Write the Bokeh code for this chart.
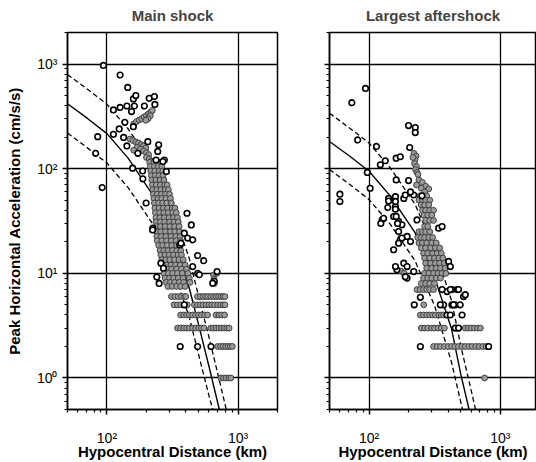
from bokeh.plotting import figure
from bokeh.layouts import row
from bokeh.models import FixedTicker, CustomJSTickFormatter, Range1d
from bokeh.embed import file_html
from bokeh.resources import INLINE

FONT = "Liberation Sans"

# ---------------- data ----------------
x_major = [100, 1000]
x_minor = [50, 60, 70, 80, 90, 200, 300, 400, 500, 600, 700, 800, 900, 2000]
y_major = [1, 10, 100, 1000]
y_minor = [0.5, 0.6, 0.7, 0.8, 0.9, 2, 3, 4, 5, 6, 7, 8, 9, 20, 30, 40, 50, 60, 70, 80, 90,
           200, 300, 400, 500, 600, 700, 800, 900, 2000]

# attenuation curves (distance km, acceleration cm/s/s)
main_curve_d = [50, 71, 100, 145, 224, 316, 425, 501, 603, 720]
main_solid_a = [417, 302, 216, 126, 56, 21.4, 7.2, 3.2, 1.26, 0.50]
main_upper_d = [50, 71, 100, 145, 224, 316, 425, 501, 603, 720, 820]
main_upper_a = [794, 575, 412, 240, 107, 40.7, 13.8, 6.0, 2.4, 0.95, 0.48]
main_lower_d = [50, 71, 100, 145, 224, 316, 425, 501, 603, 645]
main_lower_a = [219, 158, 113, 66, 29.5, 11.2, 3.8, 1.66, 0.66, 0.49]

after_solid_d = [50, 71, 100, 145, 224, 316, 425, 501, 603]
after_solid_a = [182, 132, 94.4, 55, 24.5, 9.1, 2.95, 1.07, 0.40]
after_upper_d = [50, 71, 100, 145, 224, 316, 425, 501, 603, 720]
after_upper_a = [339, 245, 176, 102, 45.7, 17.0, 5.5, 2.0, 0.74, 0.28]
after_lower_d = [50, 71, 100, 145, 224, 316, 425, 501, 603]
after_lower_a = [98, 71, 50.7, 29.5, 13.2, 4.9, 1.41, 0.58, 0.22]

# main shock: open circles (d, a)
main_open = [(94, 970), (126, 785), (144, 598), (159, 464), (166, 499), (210, 470), (230, 488),
             (232, 411), (112, 364), (126, 385), (142, 397), (162, 397), (154, 351), (193, 397),
             (137, 277), (124, 240), (112, 213), (159, 252), (85, 202), (134, 199), (142, 165),
             (82, 140), (157, 101), (187, 95), (172, 140), (205, 181), (244, 146), (248, 169),
             (237, 121), (274, 121), (92, 66), (188, 80), (199, 47), (224, 27), (267, 117),
             (284, 94), (408, 37.5), (440, 29), (359, 18.7), (389, 24.2), (413, 21.7),
             (451, 20.9), (492, 14.8), (547, 13.2), (492, 10), (692, 10.4), (451, 11.6),
             (507, 9.7), (367, 19.4), (223, 26), (659, 8.4), (641, 8.06), (389, 5), (362, 2),
             (492, 2), (622, 2), (258, 12.5), (270, 11.2), (240, 9.2), (250, 8.0)]

# main shock: grey dots (d, a)
main_grey = [
    (160, 268), (168, 282), (176, 292), (184, 300), (192, 312), (200, 322), (208, 335),
    (216, 348), (222, 360), (214, 320), (206, 300), (198, 290),
    (150, 192), (158, 186), (166, 180), (174, 176), (182, 170), (190, 165), (198, 158),
    (170, 160), (180, 154), (190, 148), (200, 142), (208, 136), (200, 128), (210, 124),
    (218, 118), (160, 150),
    (212, 115), (228, 115), (244, 115), (256, 115),
    (214, 105), (230, 105), (246, 105), (262, 105),
    (216, 95), (232, 95), (250, 95), (266, 95),
    (218, 86), (234, 86), (250, 86), (268, 86),
    (220, 78), (236, 78), (254, 78), (272, 78),
    (222, 70), (238, 70), (256, 70), (276, 70), (288, 70),
    (224, 63), (240, 63), (258, 63), (278, 63), (294, 63),
    (226, 57), (242, 57), (260, 57), (280, 57), (300, 57),
    (228, 52), (245, 52), (262, 52), (282, 52), (305, 52),
    (230, 47), (248, 47), (266, 47), (286, 47), (310, 47),
    (232, 42), (250, 42), (270, 42), (290, 42), (315, 42), (330, 42),
    (234, 38), (252, 38), (272, 38), (294, 38), (318, 38), (338, 38),
    (236, 34), (254, 34), (274, 34), (298, 34), (322, 34), (345, 34),
    (238, 31), (256, 31), (276, 31), (300, 31), (325, 31), (350, 31),
    (238, 28), (256, 28), (278, 28), (302, 28), (328, 28), (355, 28),
    (238, 25), (258, 25), (280, 25), (305, 25), (330, 25), (358, 25),
    (240, 22.5), (260, 22.5), (282, 22.5), (308, 22.5), (335, 22.5), (362, 22.5),
    (242, 20.5), (262, 20.5), (285, 20.5), (310, 20.5), (338, 20.5), (365, 20.5),
    (248, 18.5), (266, 18.5), (288, 18.5), (312, 18.5), (340, 18.5), (365, 18.5),
    (254, 16.5), (272, 16.5), (292, 16.5), (316, 16.5), (342, 16.5), (366, 16.5),
    (258, 15), (278, 15), (298, 15), (322, 15), (348, 15), (370, 15),
    (262, 13.5), (282, 13.5), (302, 13.5), (328, 13.5), (355, 13.5), (382, 13.5),
    (266, 12), (286, 12), (308, 12), (334, 12), (362, 12), (395, 12),
    (270, 11), (290, 11), (312, 11), (340, 11), (370, 11), (405, 11),
    (272, 10), (294, 10), (318, 10), (345, 10), (375, 10), (415, 10),
    (278, 9), (300, 9), (322, 9), (350, 9), (380, 9), (425, 9),
    (284, 8.2), (305, 8.2), (328, 8.2), (356, 8.2), (385, 8.2), (430, 8.2),
    (292, 7.5), (315, 7.5), (340, 7.5), (365, 7.5), (395, 7.5),
    (650, 9.6), (655, 8.8), (660, 8.0), (690, 10),
    # rows of quantised amplitudes
    (310, 6), (330, 6), (350, 6), (370, 6), (390, 6), (400, 6), (490, 6), (515, 6), (540, 6),
    (565, 6), (590, 6), (620, 6), (650, 6), (680, 6), (710, 6), (740, 6), (770, 6), (795, 6),
    (325, 5), (345, 5), (365, 5), (410, 5), (465, 5), (490, 5), (515, 5), (540, 5),
    (570, 5), (600, 5), (630, 5), (660, 5), (700, 5), (735, 5), (770, 5), (795, 5),
    (365, 4), (385, 4), (405, 4), (425, 4), (450, 4), (475, 4), (500, 4), (525, 4), (555, 4),
    (585, 4), (680, 4), (715, 4), (750, 4), (790, 4),
    (345, 3), (365, 3), (385, 3), (405, 3), (425, 3), (450, 3), (475, 3), (500, 3), (525, 3),
    (550, 3), (620, 3), (650, 3), (680, 3), (715, 3), (750, 3), (785, 3), (820, 3), (855, 3),
    (700, 2), (735, 2), (770, 2), (805, 2), (840, 2), (875, 2), (905, 2),
    (740, 1), (775, 1), (810, 1), (850, 1), (880, 1),
]

# largest aftershock: open circles (d, a)
after_open = [(94, 585), (74, 427), (82, 188), (114, 163), (60, 57), (60, 48.5), (200, 258),
              (225, 247), (225, 221), (204, 159), (97, 92), (161, 78), (200, 77), (102, 65),
              (122, 109), (133, 119), (161, 126), (173, 130), (141, 52), (159, 54), (184, 52),
              (219, 56), (253, 55), (159, 43.5), (126, 32.5), (129, 33.6), (154, 34.9),
              (168, 31.3), (178, 29.1), (339, 27), (360, 28), (168, 25.1), (195, 22.5),
              (207, 20.1), (173, 20.9), (154, 16.8), (168, 19.4), (178, 21.7), (184, 12.5),
              (195, 11.6), (163, 10.8), (159, 11.6), (219, 10.4), (195, 9.0), (189, 9.3),
              (404, 13), (416, 11.6), (468, 7.0), (525, 6.0), (393, 6.7), (428, 7.0),
              (541, 6.25), (360, 7), (416, 7), (481, 7), (221, 5), (370, 5), (428, 5),
              (454, 5), (495, 5), (349, 5), (440, 5), (246, 5.9), (393, 4), (416, 4),
              (511, 4), (454, 3), (481, 3), (246, 2), (815, 2), (141, 49), (159, 48.6),
              (189, 56), (207, 60), (139, 42.5), (159, 41), (123, 30), (161, 35), (165, 30),
              (232, 32.4)]

# largest aftershock: grey dots (d, a)
after_grey = [
    (220, 140), (228, 132), (224, 122), (222, 112), (230, 105), (226, 98), (232, 92),
    (236, 88), (216, 128),
    (240, 78), (255, 74), (270, 68), (285, 64), (250, 65), (265, 60), (230, 70),
    (245, 55), (260, 55), (275, 55),
    (240, 50), (255, 50), (270, 50), (290, 50),
    (250, 45), (265, 45), (285, 45),
    (255, 40), (270, 40), (290, 40), (310, 40),
    (262, 36), (280, 36), (300, 36),
    (270, 32), (290, 32), (310, 32),
    (265, 28), (280, 28),
    (240, 25), (255, 25), (270, 25), (290, 25),
    (235, 22), (250, 22), (265, 22), (285, 22), (305, 22),
    (240, 19.5), (255, 19.5), (275, 19.5), (300, 19.5), (325, 19.5),
    (250, 17.5), (270, 17.5), (295, 17.5), (320, 17.5), (345, 17.5),
    (260, 15.5), (280, 15.5), (305, 15.5), (330, 15.5), (355, 15.5),
    (265, 14), (290, 14), (315, 14), (340, 14), (365, 14),
    (270, 12.5), (295, 12.5), (320, 12.5), (345, 12.5), (375, 12.5),
    (275, 11.2), (300, 11.2), (325, 11.2), (350, 11.2), (380, 11.2),
    (265, 10), (285, 10), (310, 10), (335, 10), (360, 10), (385, 10),
    (260, 9), (280, 9), (300, 9), (325, 9), (350, 9),
    (250, 8), (270, 8), (290, 8), (315, 8),
    (175, 10.5), (185, 10),
    # rows of quantised amplitudes
    (232, 7), (245, 7), (260, 7), (275, 7), (290, 7), (310, 7),
    (261, 5),
    (246, 4), (260, 4), (275, 4), (290, 4), (305, 4), (320, 4), (340, 4), (355, 4), (370, 4),
    (250, 3), (265, 3), (280, 3), (300, 3), (315, 3), (335, 3), (355, 3), (375, 3),
    (540, 3), (570, 3), (600, 3), (635, 3), (670, 3), (705, 3),
    (310, 2), (330, 2), (350, 2), (375, 2), (400, 2), (425, 2), (450, 2), (480, 2), (510, 2),
    (540, 2), (575, 2), (610, 2), (650, 2), (690, 2), (735, 2), (780, 2),
    (759, 1),
]

x_label = "Hypocentral Distance (km)"
y_label = "Peak Horizontal Acceleration (cm/s/s)"
titles = ["Main shock", "Largest aftershock"]

SUP = CustomJSTickFormatter(code="""
const sup = {'-': '\u207b', '0': '\u2070', '1': '\u00b9', '2': '\u00b2', '3': '\u00b3',
             '4': '\u2074', '5': '\u2075', '6': '\u2076', '7': '\u2077', '8': '\u2078', '9': '\u2079'};
const e = Math.round(Math.log10(tick));
return '10' + String(e).split('').map(c => sup[c]).join('');
""")
BLANK = CustomJSTickFormatter(code="return '';")


def make(title, x_end, width, bl, br, open_pts, grey_pts, curves, ylabels):
    p = figure(width=width, height=462, x_axis_type="log", y_axis_type="log",
               x_range=Range1d(50, x_end), y_range=Range1d(0.5, 2000),
               output_backend="svg", toolbar_location=None,
               min_border_left=bl, min_border_right=br, min_border_top=32, min_border_bottom=53,
               title=title)
    p.title.text_font = FONT
    p.title.text_font_size = "15px"
    p.title.text_font_style = "bold"
    p.title.align = "center"
    p.title.vertical_align = "top"
    p.title.standoff = 13
    p.outline_line_color = "black"
    p.outline_line_width = 1.5
    p.background_fill_color = "white"
    p.border_fill_color = "white"

    p.xaxis.ticker = FixedTicker(ticks=x_major, minor_ticks=x_minor)
    p.yaxis.ticker = FixedTicker(ticks=y_major, minor_ticks=y_minor)
    p.xaxis.formatter = SUP
    p.yaxis.formatter = SUP if ylabels else BLANK
    for ax in p.axis:
        ax.axis_line_width = 1.5
        ax.axis_line_color = "black"
        ax.major_tick_line_width = 1.5
        ax.minor_tick_line_width = 1.2
        ax.major_tick_in = 0
        ax.major_tick_out = 5
        ax.minor_tick_in = 0
        ax.minor_tick_out = 3
        ax.major_label_text_font = FONT
        ax.major_label_text_font_size = "14px"
        ax.major_label_text_color = "black"
        ax.axis_label_text_font = FONT
        ax.axis_label_text_font_size = "15px"
        ax.axis_label_text_font_style = "bold"
        ax.axis_label_text_color = "black"
    p.xaxis.major_label_standoff = 15
    p.xaxis.axis_label_standoff = -6
    p.yaxis.major_label_standoff = 5
    p.yaxis.axis_label_standoff = 11
    p.xaxis.axis_label = x_label
    if ylabels:
        p.yaxis.axis_label = y_label

    for g in (p.xgrid, p.ygrid):
        g.grid_line_color = "black"
        g.grid_line_width = 1.3
        g.grid_line_alpha = 1.0

    (sd, sa), (ud, ua), (ld, la) = curves
    p.line(sd, sa, line_color="black", line_width=1.4)
    p.line(ud, ua, line_color="black", line_width=1.3, line_dash="5 3")
    p.line(ld, la, line_color="black", line_width=1.3, line_dash="5 3")

    p.scatter([d for d, a in grey_pts], [a for d, a in grey_pts], size=5.8,
              fill_color="#9a9a9a", line_color="#404040", line_width=1.0)
    p.scatter([d for d, a in open_pts], [a for d, a in open_pts], size=5.6,
              fill_color="white", line_color="black", line_width=1.6)
    return p


p1 = make(titles[0], 2000, 300, 67, 23, main_open, main_grey,
          [(main_curve_d, main_solid_a), (main_upper_d, main_upper_a), (main_lower_d, main_lower_a)],
          True)
p2 = make(titles[1], 1886, 236, 29, 0, after_open, after_grey,
          [(after_solid_d, after_solid_a), (after_upper_d, after_upper_a), (after_lower_d, after_lower_a)],
          False)

layout = row(p1, p2, spacing=0)
open("out.html", "w").write(file_html(layout, INLINE))
